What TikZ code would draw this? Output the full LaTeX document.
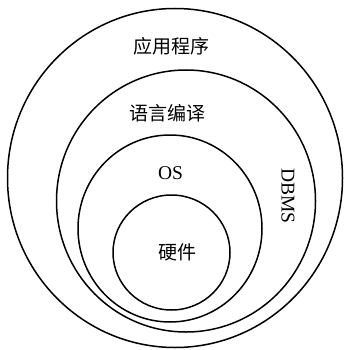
\documentclass[tikz,border=0pt]{standalone}
\usepackage{fontspec}
\setmainfont{Liberation Serif}
\newfontfamily\cjk{Noto Sans CJK SC}
\begin{document}
\begin{tikzpicture}[x=1pt,y=-1pt,
  ring/.style={draw=black,line width=1.5pt},
  cjklabel/.style={font=\cjk\fontsize{19}{20}\selectfont,inner sep=0pt},
  latlabel/.style={font=\fontsize{19.5}{20}\selectfont,inner sep=0pt}]
\useasboundingbox (0,0) rectangle (343,350);
\draw[ring] (175,178) ellipse [x radius=167.5, y radius=169.5];
\draw[ring] (186,201) ellipse [x radius=129.5, y radius=131];
\draw[ring] (170,228.5) ellipse [x radius=92, y radius=93.5];
\draw[ring] (171.5,252.5) ellipse [x radius=58.5, y radius=57.5];
\node[cjklabel] (app) at (171,46) {应用程序};
\node[cjklabel] (lang) at (167.5,113) {语言编译};
\node[latlabel] (os) at (170.5,173) {OS};
\node[latlabel,rotate=-90] (dbms) at (288,196) {DBMS};
\node[cjklabel] (hw) at (177,252) {硬件};
\end{tikzpicture}
\end{document}
